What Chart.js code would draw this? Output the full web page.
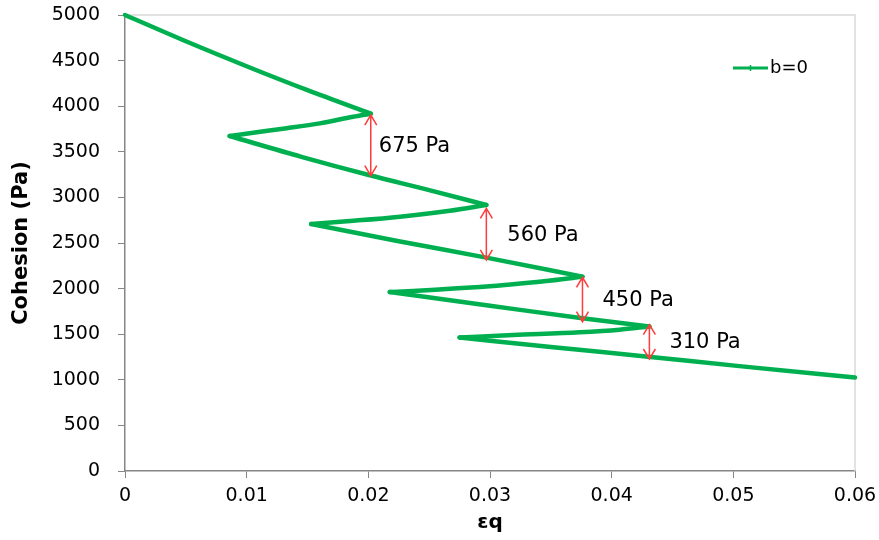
<!DOCTYPE html>
<html>
<head>
<meta charset="utf-8">
<script src="https://cdn.jsdelivr.net/npm/chart.js@4.4.1/dist/chart.umd.min.js"></script>
<style>
  html, body { margin: 0; padding: 0; background: #fff; }
</style>
</head>
<body>
<canvas id="chart" width="879" height="540"></canvas>
<script>
// Curve: strain (eq) against cohesion (Pa)
const strainValues = [0, 0.005, 0.0103, 0.015, 0.0202,
  0.01875, 0.01601, 0.01328, 0.01053, 0.0086,
  0.0145, 0.0202, 0.025, 0.0297,
  0.0267, 0.0226, 0.0185, 0.0153,
  0.0225, 0.0297, 0.0376,
  0.03681, 0.03463, 0.0319, 0.02915, 0.02641, 0.02367, 0.02176,
  0.030, 0.0376, 0.0431,
  0.04064, 0.03736, 0.0319, 0.0275,
  0.035, 0.043, 0.0505, 0.06];
const cohesionValues = [5000, 4712, 4422, 4176, 3918,
  3885, 3812, 3758, 3709, 3673,
  3445, 3240, 3080, 2917,
  2854, 2789, 2741, 2708,
  2520, 2340, 2131,
  2116, 2083, 2047, 2018, 1996, 1974, 1962,
  1812, 1674, 1585,
  1550, 1521, 1491, 1464,
  1360, 1253, 1150, 1025];

// Red double arrows marking the drops
const arrowStrain = [0.0202, 0.0297, 0.0376, 0.0431];
const arrowTop = [3903, 2880, 2124, 1605];
const arrowBottom = [3238, 2314, 1637, 1228];
const arrowLabels = ['675 Pa', '560 Pa', '450 Pa', '310 Pa'];

const xTickValues = [0, 0.01, 0.02, 0.03, 0.04, 0.05, 0.06];
const xTickLabels = ['0', '0.01', '0.02', '0.03', '0.04', '0.05', '0.06'];
const yTickValues = [0, 500, 1000, 1500, 2000, 2500, 3000, 3500, 4000, 4500, 5000];
const yTickLabels = ['0', '500', '1000', '1500', '2000', '2500', '3000', '3500', '4000', '4500', '5000'];

const seriesLabel = 'b=0';
const GREEN = '#00b050';
const AXIS_GRAY = '#868686';
const FONT = '"DejaVu Sans", sans-serif';

const labelGap = [8, 21, 20, 20];

// split the zigzag where the strain changes direction, so each piece can be smoothed on its own
function splitSegments() {
    const pts = strainValues.map((s, i) => ({ x: s, y: cohesionValues[i] }));
    const segments = [];
    let current = [pts[0]];
    for (let i = 1; i < pts.length; i++) {
        current.push(pts[i]);
        const next = pts[i + 1];
        if (next && Math.sign(next.x - pts[i].x) !== Math.sign(pts[i].x - pts[i - 1].x)) {
            segments.push(current);
            current = [pts[i]];
        }
    }
    segments.push(current);
    return segments;
}

const framePlugin = {
    id: 'frame',
    beforeDatasetsDraw(chart) {
        const { ctx, chartArea } = chart;
        ctx.save();
        ctx.strokeStyle = '#d9d9d9';
        ctx.lineWidth = 1.5;
        ctx.beginPath();
        ctx.moveTo(chartArea.left, chartArea.top);
        ctx.lineTo(chartArea.right, chartArea.top);
        ctx.lineTo(chartArea.right, chartArea.bottom);
        ctx.stroke();
        ctx.restore();
    }
};

const annotationPlugin = {
    id: 'annotations',
    afterDatasetsDraw(chart) {
        const { ctx, scales: { x, y } } = chart;
        ctx.save();
        arrowStrain.forEach((s, i) => {
            const px = x.getPixelForValue(s);
            const top = y.getPixelForValue(arrowTop[i]);
            const bot = y.getPixelForValue(arrowBottom[i]);
            ctx.strokeStyle = '#ff3b3b';
            ctx.lineWidth = 1.5;
            ctx.beginPath();
            ctx.moveTo(px, top);
            ctx.lineTo(px, bot);
            ctx.moveTo(px - 6, top + 10);
            ctx.lineTo(px, top);
            ctx.lineTo(px + 6, top + 10);
            ctx.moveTo(px - 6, bot - 10);
            ctx.lineTo(px, bot);
            ctx.lineTo(px + 6, bot - 10);
            ctx.stroke();

            ctx.fillStyle = '#000';
            ctx.font = '21px ' + FONT;
            ctx.textAlign = 'left';
            ctx.textBaseline = 'middle';
            ctx.fillText(arrowLabels[i], px + labelGap[i], (top + bot) / 2 + 1);
        });

        // legend inside the plot area
        ctx.strokeStyle = GREEN;
        ctx.lineWidth = 3;
        ctx.beginPath();
        ctx.moveTo(733, 68);
        ctx.lineTo(768, 68);
        ctx.stroke();
        ctx.lineWidth = 1.5;
        ctx.beginPath();
        ctx.moveTo(750.5, 65);
        ctx.lineTo(750.5, 71);
        ctx.stroke();
        ctx.fillStyle = '#000';
        ctx.font = '18px ' + FONT;
        ctx.textBaseline = 'middle';
        ctx.fillText(seriesLabel, 770, 68);
        ctx.restore();
    }
};

const datasets = splitSegments().map((seg, i) => ({
    label: i === 0 ? seriesLabel : '',
    data: seg,
    borderColor: GREEN,
    borderWidth: 4.5,
    pointRadius: 0,
    cubicInterpolationMode: 'monotone',
    fill: false,
    borderJoinStyle: 'round',
    borderCapStyle: 'round',
    clip: false
}));

new Chart(document.getElementById('chart'), {
    type: 'line',
    data: { datasets },
    options: {
        responsive: false,
        animation: false,
        layout: { padding: { top: 15, right: 24, left: 0, bottom: 0 } },
        plugins: { legend: { display: false }, tooltip: { enabled: false } },
        scales: {
            x: {
                type: 'linear',
                min: 0,
                max: 0.06,
                afterBuildTicks: scale => { scale.ticks = xTickValues.map(v => ({ value: v })); },
                afterFit: scale => {
                    scale.height = 69;
                    scale.paddingLeft = 0;
                    scale.paddingRight = 0;
                },
                ticks: {
                    callback: (value, index) => xTickLabels[index],
                    font: { family: FONT, size: 19 },
                    color: '#000',
                    padding: 7,
                    maxRotation: 0,
                    autoSkip: false
                },
                grid: { drawOnChartArea: false, drawTicks: true, tickLength: 7, color: AXIS_GRAY },
                border: { display: true, color: AXIS_GRAY, width: 1.5 },
                title: {
                    display: true,
                    text: 'εq',
                    font: { family: FONT, size: 20, weight: 'bold' },
                    color: '#000',
                    padding: { top: 0, bottom: 5 }
                }
            },
            y: {
                min: 0,
                max: 5000,
                afterBuildTicks: scale => { scale.ticks = yTickValues.map(v => ({ value: v })); },
                afterFit: scale => {
                    scale.width = 125;
                    scale.paddingTop = 0;
                    scale.paddingBottom = 0;
                },
                ticks: {
                    callback: (value, index) => yTickLabels[index],
                    font: { family: FONT, size: 19 },
                    color: '#000',
                    padding: 18,
                    autoSkip: false
                },
                grid: { drawOnChartArea: false, drawTicks: true, tickLength: 7, color: AXIS_GRAY },
                border: { display: true, color: AXIS_GRAY, width: 1.5 },
                title: {
                    display: true,
                    text: 'Cohesion (Pa)',
                    font: { family: FONT, size: 21, weight: 'bold' },
                    color: '#000',
                    padding: { top: 9, bottom: 0 }
                }
            }
        }
    },
    plugins: [framePlugin, annotationPlugin]
});
</script>
</body>
</html>
